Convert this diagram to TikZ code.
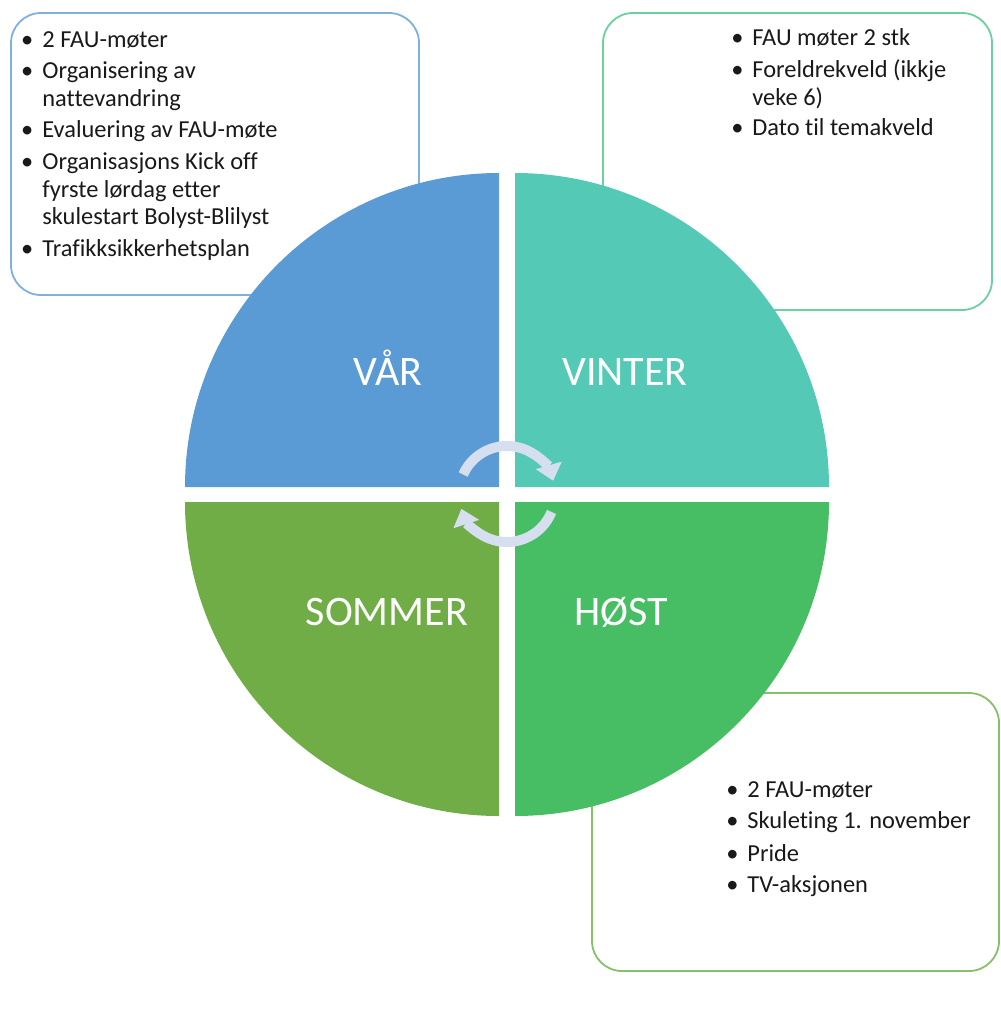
\documentclass[tikz,border=0pt]{standalone}
\usepackage{fontspec}
\setmainfont{Carlito}[Ligatures=NoCommon]
\usetikzlibrary{arrows.meta}
\definecolor{cvaar}{HTML}{5B9BD5}
\definecolor{cvinter}{HTML}{53C9B6}
\definecolor{csommer}{HTML}{70AD47}
\definecolor{chost}{HTML}{48BE64}
\definecolor{bvaar}{HTML}{7EB0E0}
\definecolor{bvinter}{HTML}{6DD0A0}
\definecolor{bhost}{HTML}{86C06A}
\definecolor{carrow}{HTML}{D6DFEF}
\tikzset{
  notebox/.style={line width=0.9pt, rounded corners=15pt, fill=white},
  season/.style={anchor=base, text=white, font=\fontsize{21}{25}\selectfont, inner sep=0pt},
  line/.style={anchor=base west, font=\fontsize{12.2}{14}\selectfont, inner sep=0pt, text=black!90},
  cyclearrow/.style={carrow, line width=5pt, -{Triangle[width=13pt,length=8pt]}}
}
\newcommand{\bul}{\llap{\textbullet\hspace{4.5pt}}}
\begin{document}
\begin{tikzpicture}[x=0.5pt,y=0.5pt]
\useasboundingbox (0,0) rectangle (1001,-1012);
% note boxes (behind circle)
\draw[notebox, draw=bvaar] (11,-13) rectangle (419,-295);
\draw[notebox, draw=bvinter] (603,-13) rectangle (992,-310);
\draw[notebox, draw=bhost] (592,-693) rectangle (999,-971);
% quadrants
\fill[cvaar] (499,-487) -- (185,-487) arc[start angle=180,end angle=90,radius=314] -- cycle;
\fill[cvinter] (515,-487) -- (515,-173) arc[start angle=90,end angle=0,radius=314] -- cycle;
\fill[csommer] (499,-502) -- (185,-502) arc[start angle=180,end angle=270,radius=314] -- cycle;
\fill[chost] (515,-502) -- (829,-502) arc[start angle=0,end angle=-90,radius=314] -- cycle;
% cycle arrows
\coordinate (ac) at (507,-494);
\draw[cyclearrow] ([shift={(156:48)}]ac) arc[start angle=156,end angle=16,radius=48];
\draw[cyclearrow] ([shift={(-22:48)}]ac) arc[start angle=-22,end angle=-162,radius=48];
% season labels
\node[season] (vaar) at (388,-385) {VÅR};
\node[season] (vinter) at (625,-385) {VINTER};
\node[season] (sommer) at (387,-625) {SOMMER};
\node[season] (host) at (621,-625) {HØST};
% box 1 text
\node[line] (v1) at (42,-47) {\bul 2 FAU-møter};
\node[line] (v2) at (42,-78) {\bul Organisering av};
\node[line] (v3) at (42,-106) {nattevandring};
\node[line] (v4) at (42,-137) {\bul Evaluering av FAU-møte};
\node[line] (v5) at (42,-169) {\bul Organisasjons Kick off};
\node[line] (v6) at (42,-197) {fyrste lørdag etter};
\node[line] (v7) at (42,-224) {skulestart Bolyst-Blilyst};
\node[line] (v8) at (42,-256) {\bul Trafikksikkerhetsplan};
% box 2 text
\node[line] (w1) at (752,-46) {\bul FAU møter 2 stk};
\node[line] (w2) at (752,-77) {\bul Foreldrekveld (ikkje};
\node[line] (w3) at (752,-105) {veke 6)};
\node[line] (w4) at (752,-135) {\bul Dato til temakveld};
% box 3 text
\node[line] (h1) at (747,-797) {\bul 2 FAU-møter};
\node[line] (h2) at (747,-828) {\bul Skuleting 1. november};
\node[line] (h3) at (747,-861) {\bul Pride};
\node[line] (h4) at (747,-892) {\bul TV-aksjonen};
\end{tikzpicture}
\end{document}
